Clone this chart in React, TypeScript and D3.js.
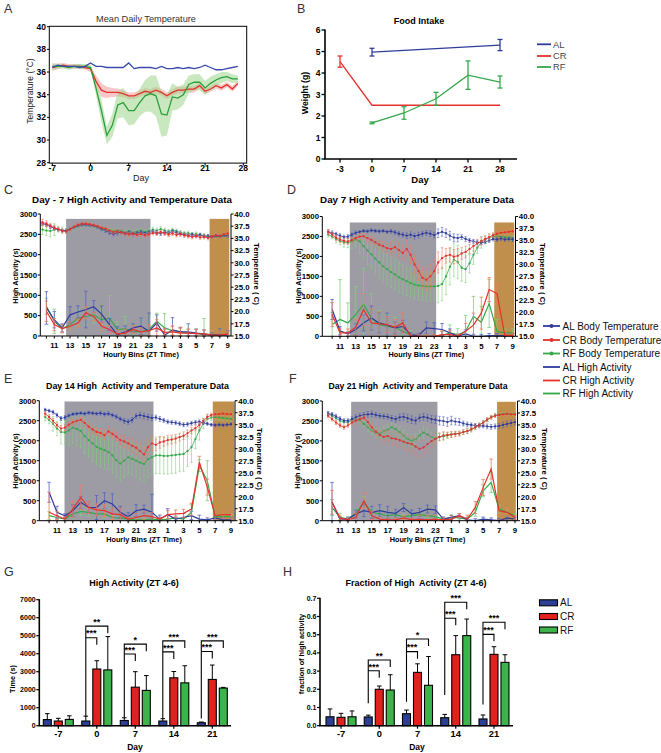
import React from "react";
import * as d3 from "d3";

const FONT = "'Liberation Sans', Arial, Helvetica, sans-serif";

const COLORS: any = {
  AL: { line: "#2f3c9c", err: "#5563c0", bar: "#2d3f95", a: "#3a4aaa" },
  CR: { line: "#e5322c", err: "#ef7b5e", bar: "#e0221f", a: "#e0352c" },
  RF: { line: "#34a84a", err: "#84cc7c", bar: "#3cb44b", a: "#2b9f3d" },
};
const GRAY = "#9d9ca5";
const BROWN = "#c08f4c";

// ---------------- Panel A: Mean daily temperature ----------------
const A_DAYS = [-7, -6, -5, -4, -3, -2, -1, 0, 1, 2, 3, 4, 5, 6, 7, 8, 9, 10, 11, 12, 13, 14, 15, 16, 17, 18, 19, 20, 21, 22, 23, 24, 25, 26, 27];
const A_AL = [36.4, 36.6, 36.5, 36.5, 36.5, 36.4, 36.5, 36.8, 36.5, 36.5, 36.4, 36.4, 36.4, 36.4, 36.8, 36.3, 36.4, 36.4, 36.4, 36.3, 36.5, 36.3, 36.3, 36.4, 36.3, 36.4, 36.3, 36.4, 36.6, 36.4, 36.2, 36.2, 36.3, 36.4, 36.5];
const A_CR = [36.4, 36.5, 36.6, 36.5, 36.5, 36.5, 36.4, 36.3, 35.2, 34.4, 34.2, 34.2, 34.2, 34.1, 33.9, 33.9, 34.1, 34.3, 34.2, 34.4, 34.2, 33.9, 34.2, 34.4, 34.4, 34.5, 34.5, 34.8, 34.3, 34.5, 34.8, 34.6, 34.9, 34.5, 35.0];
const A_CR_SD = [0.3, 0.25, 0.2, 0.2, 0.2, 0.2, 0.2, 0.25, 0.5, 0.6, 0.5, 0.4, 0.35, 0.3, 0.3, 0.3, 0.3, 0.3, 0.3, 0.3, 0.3, 0.3, 0.3, 0.3, 0.3, 0.3, 0.3, 0.25, 0.25, 0.25, 0.25, 0.25, 0.25, 0.25, 0.25];
const A_RF = [36.5, 36.5, 36.5, 36.4, 36.5, 36.5, 36.5, 36.4, 34.6, 32.6, 30.4, 31.3, 33.1, 33.3, 32.6, 32.6, 33.3, 33.9, 34.1, 33.9, 32.3, 32.2, 33.8, 33.7, 34.0, 34.9, 35.1, 35.1, 34.6, 35.0, 35.3, 35.5, 35.6, 35.4, 35.4];
const A_RF_SD = [0.3, 0.2, 0.2, 0.2, 0.2, 0.2, 0.2, 0.2, 0.6, 1.0, 0.8, 1.0, 1.2, 1.3, 1.3, 1.2, 1.2, 1.4, 1.6, 1.8, 2.0, 1.8, 1.2, 1.0, 0.9, 0.8, 0.7, 0.7, 0.6, 0.6, 0.5, 0.5, 0.4, 0.4, 0.3];
const A_XTICKS = [-7, 0, 7, 14, 21, 28];
const A_YTICKS = [28, 30, 32, 34, 36, 38, 40];

// ---------------- Panel B: Food intake ----------------
const B_DAYS = ["-3", "0", "7", "14", "21", "28"];
const B_AL_DAYS = ["0", "28"];
const B_AL = [4.97, 5.3];
const B_AL_SD = [0.18, 0.26];
const B_CR_DAYS = ["-3", "0", "7", "14", "21", "28"];
const B_CR = [4.53, 2.5, 2.5, 2.5, 2.5, 2.5];
const B_CR_SD = [0.26, 0, 0, 0, 0, 0];
const B_RF_DAYS = ["0", "7", "14", "21", "28"];
const B_RF = [1.68, 2.14, 2.8, 3.9, 3.58];
const B_RF_SD = [0.04, 0.29, 0.3, 0.66, 0.28];
const B_YTICKS = [0, 1, 2, 3, 4, 5, 6];

// ---------------- Panels C-F: activity & temperature ----------------
const HOURS = [10, 11, 12, 13, 14, 15, 16, 17, 18, 19, 20, 21, 22, 23, 24, 25, 26, 27, 28, 29, 30, 31, 32, 33];
const TEMP_BINS = d3.range(9.5, 33.25, 0.5);
const ZT_TICKS = [11, 13, 15, 17, 19, 21, 23, 25, 27, 29, 31, 33];
const ZT_LABELS = ["11", "13", "15", "17", "19", "21", "23", "1", "3", "5", "7", "9"];
const ACT_TICKS = [0, 500, 1000, 1500, 2000, 2500, 3000];
const TEMP_TICKS = [15, 17.5, 20, 22.5, 25, 27.5, 30, 32.5, 35, 37.5, 40];

// Day -7
const C_T_AL = [38.0, 37.8, 37.4, 37.1, 36.8, 36.6, 36.6, 36.9, 37.3, 37.6, 37.8, 37.8, 37.7, 37.6, 37.3, 36.9, 36.6, 36.2, 35.9, 36.1, 36.3, 36.0, 36.2, 35.9, 36.1, 36.3, 36.0, 36.2, 36.4, 36.2, 36.0, 36.3, 36.1, 36.4, 36.2, 35.9, 35.8, 35.6, 35.8, 35.5, 35.7, 35.4, 35.5, 35.3, 35.5, 35.4, 35.6, 35.5];
const C_T_CR = [38.3, 38.0, 37.6, 37.2, 36.9, 36.5, 36.4, 36.9, 37.4, 37.8, 38.0, 38.0, 37.9, 37.7, 37.5, 37.2, 37.0, 36.6, 36.3, 36.4, 36.2, 36.0, 35.8, 36.0, 35.7, 35.9, 35.6, 35.8, 36.1, 36.0, 36.3, 36.0, 35.8, 36.0, 35.7, 35.9, 35.6, 35.5, 35.3, 35.5, 35.2, 35.3, 35.1, 35.4, 35.6, 35.5, 35.8, 36.0];
const C_T_RF = [36.8, 36.6, 36.5, 36.8, 36.9, 36.7, 36.6, 36.9, 37.2, 37.5, 37.7, 37.8, 37.7, 37.5, 37.3, 37.0, 36.8, 36.6, 36.5, 36.7, 36.5, 36.3, 36.5, 36.2, 36.4, 36.6, 36.3, 36.5, 36.8, 36.6, 36.9, 36.6, 36.4, 36.7, 36.5, 36.2, 36.0, 36.1, 35.8, 35.9, 35.7, 35.6, 35.4, 35.5, 35.3, 35.6, 35.4, 35.5];
const C_TSD_AL = [0.4, 0.4, 0.3, 0.3, 0.3, 0.3, 0.3, 0.3, 0.4, 0.4, 0.4, 0.4, 0.3, 0.3, 0.4, 0.4, 0.4, 0.4, 0.3, 0.3, 0.3, 0.3, 0.3, 0.3];
const C_TSD_CR = [0.6, 0.5, 0.4, 0.4, 0.3, 0.3, 0.3, 0.3, 0.4, 0.4, 0.4, 0.4, 0.4, 0.4, 0.4, 0.4, 0.4, 0.4, 0.4, 0.4, 0.4, 0.4, 0.5, 0.6];
const C_TSD_RF = [1.0, 1.2, 0.6, 0.4, 0.4, 0.4, 0.4, 0.4, 0.4, 0.4, 0.4, 0.4, 0.5, 0.5, 0.5, 0.5, 0.4, 0.4, 0.4, 0.4, 0.4, 0.3, 0.3, 0.3];
const C_A_AL = [690, 400, 200, 520, 590, 650, 720, 540, 280, 30, 100, 200, 240, 115, 320, 20, 150, 100, 100, 70, 50, 30, 30, 30];
const C_A_CR = [610, 280, 180, 240, 320, 570, 480, 240, 160, 50, 70, 160, 100, 130, 200, 90, 100, 70, 70, 60, 50, 20, 20, 50];
const C_A_RF = [730, 360, 180, 280, 440, 480, 520, 400, 440, 160, 180, 110, 110, 160, 360, 200, 130, 100, 70, 70, 30, 30, 30, 30];
const C_ASD_AL = [400, 200, 100, 200, 150, 450, 150, 200, 150, 200, 150, 100, 200, 450, 200, 150, 300, 100, 200, 100, 100, 50, 150, 100];
const C_ASD_CR = [250, 150, 100, 100, 100, 150, 100, 100, 100, 100, 100, 100, 100, 150, 200, 100, 150, 150, 100, 100, 100, 100, 100, 200];
const C_ASD_RF = [200, 300, 100, 150, 200, 200, 200, 250, 550, 200, 300, 200, 300, 350, 200, 350, 100, 100, 100, 100, 400, 100, 150, 100];

// Day 7
const D_T_AL = [36.8, 36.6, 36.3, 36.0, 35.7, 35.8, 36.2, 36.6, 36.8, 37.0, 36.9, 37.1, 37.0, 36.9, 37.0, 36.8, 36.9, 36.7, 36.4, 36.2, 36.0, 36.2, 35.9, 36.1, 36.4, 36.6, 36.4, 36.1, 36.5, 36.8, 36.5, 36.0, 35.6, 35.5, 35.7, 35.3, 35.0, 34.8, 34.6, 34.5, 34.7, 35.0, 35.3, 35.2, 35.4, 35.2, 35.3, 35.2];
const D_T_CR = [36.8, 36.2, 35.6, 35.2, 34.9, 34.8, 35.1, 35.5, 35.8, 35.9, 35.5, 35.1, 34.6, 34.1, 33.8, 33.4, 33.2, 33.6, 33.0, 32.4, 33.2, 32.0, 30.0, 28.6, 27.2, 26.8, 27.5, 28.6, 30.4, 31.3, 31.8, 32.0, 31.6, 31.8, 32.3, 32.6, 33.2, 33.8, 34.4, 34.9, 35.3, 35.7, 36.1, 36.4, 36.6, 36.7, 36.8, 36.9];
const D_T_RF = [36.2, 35.8, 35.3, 34.9, 34.6, 34.5, 34.8, 35.2, 34.8, 33.8, 32.9, 32.1, 31.2, 30.4, 29.6, 29.0, 28.4, 27.9, 27.3, 26.9, 26.5, 26.1, 25.8, 25.6, 25.5, 25.4, 25.4, 25.4, 25.5, 25.9, 27.5, 29.5, 31.0, 30.5, 29.3, 29.0, 30.2, 32.0, 33.5, 34.6, 35.2, 35.6, 35.8, 35.9, 35.8, 35.7, 35.6, 35.5];
const D_TSD_AL = [0.4, 0.4, 0.4, 0.4, 0.3, 0.3, 0.3, 0.3, 0.4, 0.5, 0.6, 0.6, 0.5, 0.6, 0.9, 0.9, 0.8, 0.5, 0.4, 0.4, 0.4, 0.4, 0.4, 0.4];
const D_TSD_CR = [0.5, 0.6, 0.6, 0.5, 0.6, 0.8, 0.8, 1.0, 1.2, 1.5, 1.8, 2.0, 2.2, 2.5, 2.2, 1.5, 1.5, 1.2, 1.0, 0.8, 0.6, 0.5, 0.5, 0.4];
const D_TSD_RF = [0.5, 0.8, 1.0, 1.5, 2.5, 3.0, 3.2, 3.3, 3.3, 3.2, 3.0, 3.0, 3.0, 3.0, 3.5, 3.8, 3.5, 2.8, 2.0, 1.2, 0.8, 0.6, 0.5, 0.5];
const D_A_AL = [670, 140, 60, 170, 335, 460, 335, 280, 210, 250, 40, 20, 210, 190, 170, 85, 0, 60, 0, 0, 20, 20, 20, 20];
const D_A_CR = [545, 85, 85, 225, 670, 335, 310, 295, 225, 335, 0, 0, 0, 0, 40, 40, 0, 125, 280, 580, 1170, 1070, 25, 25];
const D_A_RF = [295, 420, 335, 545, 800, 460, 295, 250, 225, 125, 40, 0, 0, 0, 20, 85, 40, 125, 500, 350, 820, 120, 85, 85];
const D_ASD_AL = [250, 100, 50, 150, 200, 300, 250, 300, 150, 150, 50, 50, 150, 150, 150, 100, 50, 100, 50, 50, 50, 50, 50, 50];
const D_ASD_CR = [300, 100, 100, 200, 400, 350, 300, 200, 200, 250, 50, 50, 50, 50, 100, 100, 50, 200, 300, 400, 300, 250, 50, 50];
const D_ASD_RF = [300, 1000, 500, 700, 900, 600, 350, 300, 250, 200, 100, 50, 50, 50, 100, 200, 150, 400, 500, 400, 600, 300, 100, 100];

// Day 14
const E_T_AL = [38.1, 37.9, 37.6, 37.0, 36.3, 36.5, 36.9, 37.2, 37.3, 37.4, 37.3, 37.5, 37.4, 37.3, 37.4, 37.2, 37.3, 37.0, 36.7, 36.2, 35.8, 35.6, 36.0, 36.8, 37.0, 36.8, 36.6, 36.4, 36.5, 36.2, 35.9, 35.6, 35.5, 35.4, 35.2, 35.0, 35.1, 35.3, 35.5, 35.6, 35.4, 35.2, 35.0, 34.9, 35.0, 34.9, 35.0, 35.1];
const E_T_CR = [37.3, 36.6, 35.8, 34.9, 34.2, 34.4, 35.0, 35.5, 35.8, 36.0, 35.4, 34.6, 34.0, 33.5, 33.3, 32.8, 33.6, 33.1, 32.5, 31.8, 31.5, 31.1, 30.6, 30.2, 29.5, 28.8, 30.3, 31.1, 30.8, 31.3, 31.5, 31.8, 31.9, 32.1, 32.4, 32.7, 33.2, 33.8, 34.3, 34.9, 35.8, 36.6, 37.0, 37.2, 37.2, 37.3, 37.2, 37.2];
const E_T_RF = [36.6, 36.0, 35.2, 34.2, 33.5, 33.4, 33.8, 34.4, 34.1, 33.7, 32.6, 31.8, 31.1, 30.4, 30.0, 29.7, 29.3, 28.6, 27.6, 26.9, 27.5, 28.2, 27.9, 27.5, 27.1, 26.8, 27.8, 28.2, 28.6, 28.6, 28.5, 28.5, 28.6, 28.7, 28.8, 28.9, 29.5, 30.3, 32.0, 33.8, 35.2, 36.2, 36.5, 36.6, 36.5, 36.4, 36.3, 36.2];
const E_TSD_AL = [0.3, 0.4, 0.4, 0.3, 0.3, 0.3, 0.3, 0.4, 0.4, 0.4, 0.5, 0.5, 0.6, 0.6, 0.5, 0.4, 0.4, 0.4, 0.4, 0.4, 0.3, 0.3, 0.3, 0.3];
const E_TSD_CR = [0.5, 0.5, 0.6, 0.6, 0.6, 0.7, 0.8, 0.9, 1.0, 1.0, 1.2, 1.4, 1.5, 1.5, 1.2, 1.0, 0.9, 0.8, 0.7, 0.6, 0.5, 0.4, 0.4, 0.4];
const E_TSD_RF = [0.8, 1.5, 2.5, 3.2, 3.5, 3.6, 3.8, 3.8, 3.7, 3.6, 3.5, 3.5, 3.6, 3.8, 3.8, 3.8, 3.8, 3.6, 3.2, 2.0, 1.0, 0.6, 0.5, 0.5];
const E_A_AL = [710, 210, 125, 250, 460, 330, 330, 500, 420, 210, 100, 250, 290, 210, 40, 150, 40, 80, 125, 40, 20, 70, 20, 20];
const E_A_CR = [210, 125, 40, 290, 580, 330, 270, 250, 170, 150, 40, 80, 125, 100, 40, 150, 170, 185, 290, 1460, 840, 125, 150, 150];
const E_A_RF = [125, 80, 40, 170, 230, 210, 170, 170, 80, 70, 40, 20, 20, 40, 20, 40, 70, 40, 210, 1375, 1000, 100, 100, 100];
const E_ASD_AL = [250, 150, 50, 150, 150, 150, 300, 200, 250, 150, 100, 150, 100, 450, 100, 150, 50, 100, 100, 100, 50, 50, 50, 50];
const E_ASD_CR = [500, 100, 50, 200, 300, 150, 150, 150, 150, 150, 50, 100, 100, 100, 50, 100, 100, 100, 150, 150, 200, 100, 100, 100];
const E_ASD_RF = [100, 50, 50, 100, 100, 100, 100, 100, 50, 50, 50, 50, 50, 50, 50, 100, 50, 50, 200, 150, 500, 50, 50, 50];

// Day 21
const F_T_AL = [37.4, 37.2, 36.8, 36.3, 35.9, 35.9, 36.2, 36.6, 36.9, 37.1, 37.2, 37.3, 37.1, 36.9, 36.8, 36.7, 36.4, 36.2, 36.6, 36.7, 36.4, 36.1, 35.9, 36.5, 36.7, 36.5, 36.2, 36.1, 35.9, 35.8, 35.6, 35.9, 35.7, 35.6, 35.3, 35.1, 35.0, 34.9, 34.8, 34.8, 34.7, 34.6, 34.7, 34.8, 35.0, 35.2, 35.4, 35.6];
const F_T_CR = [36.9, 36.2, 35.5, 34.9, 34.5, 34.9, 35.5, 35.9, 36.2, 36.5, 35.6, 34.5, 33.6, 32.9, 32.5, 32.7, 32.2, 32.1, 31.8, 31.5, 31.2, 31.0, 30.5, 30.0, 30.3, 31.0, 31.6, 32.1, 32.5, 32.8, 32.9, 33.0, 33.1, 33.2, 33.5, 33.7, 34.1, 34.5, 35.0, 35.5, 36.1, 36.6, 36.9, 37.1, 37.2, 37.3, 37.2, 37.2];
const F_T_RF = [37.3, 36.9, 36.4, 35.9, 35.6, 35.6, 35.9, 36.2, 35.9, 35.2, 34.5, 33.8, 33.4, 33.2, 33.7, 34.0, 34.5, 34.1, 33.5, 32.8, 32.1, 31.7, 32.0, 32.8, 33.4, 33.0, 32.5, 32.1, 32.5, 32.6, 32.8, 33.0, 33.2, 33.2, 33.5, 33.7, 34.0, 34.5, 35.0, 35.5, 36.1, 36.6, 37.0, 37.2, 37.3, 37.3, 37.3, 37.2];
const F_TSD_AL = [0.4, 0.4, 0.4, 0.5, 0.5, 0.6, 0.5, 0.5, 0.6, 0.7, 0.8, 0.7, 0.7, 0.8, 0.9, 0.9, 0.7, 0.5, 0.4, 0.4, 0.5, 0.5, 0.6, 0.6];
const F_TSD_CR = [0.4, 0.4, 0.4, 0.4, 0.5, 0.8, 1.0, 1.2, 1.4, 1.5, 1.6, 1.8, 1.5, 1.2, 0.8, 0.6, 0.5, 0.5, 0.4, 0.4, 0.4, 0.4, 0.3, 0.3];
const F_TSD_RF = [0.4, 0.4, 0.4, 0.4, 0.5, 0.8, 1.0, 1.0, 1.0, 1.1, 1.2, 1.2, 1.2, 1.0, 0.8, 0.6, 0.5, 0.5, 0.5, 0.4, 0.4, 0.4, 0.3, 0.3];
const F_A_AL = [460, 40, 40, 170, 250, 210, 250, 210, 185, 330, 170, 210, 290, 270, 40, 85, 125, 20, 0, 40, 20, 0, 70, 40];
const F_A_CR = [460, 70, 20, 85, 500, 125, 40, 20, 20, 70, 20, 40, 20, 40, 20, 40, 125, 40, 330, 835, 1295, 250, 210, 85];
const F_A_RF = [330, 85, 40, 185, 460, 210, 170, 125, 150, 100, 125, 150, 125, 100, 40, 85, 70, 40, 210, 750, 960, 290, 210, 125];
const F_ASD_AL = [500, 50, 50, 100, 150, 150, 150, 150, 100, 100, 100, 100, 100, 100, 50, 50, 50, 50, 50, 50, 50, 50, 50, 50];
const F_ASD_CR = [300, 50, 50, 100, 200, 100, 50, 50, 50, 50, 50, 100, 100, 100, 50, 100, 50, 100, 150, 200, 250, 100, 100, 50];
const F_ASD_RF = [200, 100, 50, 100, 150, 100, 100, 50, 50, 50, 50, 50, 50, 50, 50, 50, 50, 50, 100, 150, 250, 100, 100, 50];

// ---------------- Panels G-H: bar charts ----------------
const GH_DAYS = ["-7", "0", "7", "14", "21"];
const G_AL = [340, 260, 290, 260, 165];
const G_AL_SD = [330, 270, 150, 130, 40];
const G_CR = [260, 3150, 2140, 2660, 2570];
const G_CR_SD = [150, 460, 860, 350, 800];
const G_RF = [350, 3100, 1960, 2380, 2090];
const G_RF_SD = [200, 1850, 825, 950, 40];
const G_YTICKS = [0, 1000, 2000, 3000, 4000, 5000, 6000, 7000];
const G_SIG = [
  { day: "0", outer: 5530, inner: 4890, outerLabel: "**", innerLabel: "***", leftBottom: 500 },
  { day: "7", outer: 4530, inner: 3980, outerLabel: "*", innerLabel: "***", leftBottom: 440 },
  { day: "14", outer: 4710, inner: 4100, outerLabel: "***", innerLabel: "***", leftBottom: 400 },
  { day: "21", outer: 4710, inner: 4120, outerLabel: "***", innerLabel: "***", leftBottom: 400 },
];

const H_AL = [0.049, 0.048, 0.066, 0.044, 0.037];
const H_AL_SD = [0.043, 0.01, 0.02, 0.018, 0.022];
const H_CR = [0.046, 0.2, 0.293, 0.39, 0.392];
const H_CR_SD = [0.022, 0.018, 0.047, 0.105, 0.042];
const H_RF = [0.049, 0.196, 0.222, 0.495, 0.348];
const H_RF_SD = [0.032, 0.084, 0.158, 0.091, 0.042];
const H_YTICKS = [0, 0.1, 0.2, 0.3, 0.4, 0.5, 0.6, 0.7];
const H_SIG = [
  { day: "0", outer: 0.361, inner: 0.302, outerLabel: "**", innerLabel: "***", leftBottom: 0.123 },
  { day: "7", outer: 0.476, inner: 0.407, outerLabel: "*", innerLabel: "***", leftBottom: 0.132 },
  { day: "14", outer: 0.678, inner: 0.59, outerLabel: "***", innerLabel: "***", leftBottom: 0.169 },
  { day: "21", outer: 0.568, inner: 0.502, outerLabel: "***", innerLabel: "***", leftBottom: 0.117 },
];

// ---------------- layout configs ----------------
const TEMP_PANELS = [
  {
    id: "C", left: 40.3, right: 231, top: 214, bottom: 336, x11: 54.3, x33: 227.7,
    gray: [12.5, 23.2], brown: [30.7, 33.2], shadeTop: 2880,
    title: "Day - 7 High Activity and Temperature Data", titleX: 132, titleY: 203, titleSize: 9.8,
    ylabX: 15, yrX: 257, midY: 276,
    t: { AL: C_T_AL, CR: C_T_CR, RF: C_T_RF }, tsd: { AL: C_TSD_AL, CR: C_TSD_CR, RF: C_TSD_RF },
    a: { AL: C_A_AL, CR: C_A_CR, RF: C_A_RF }, asd: { AL: C_ASD_AL, CR: C_ASD_CR, RF: C_ASD_RF },
  },
  {
    id: "D", left: 322.3, right: 515.5, top: 216.5, bottom: 336.3, x11: 340, x33: 512.7,
    gray: [12.25, 23.25], brown: [30.65, 33.2], shadeTop: 2850,
    title: "Day 7 High Activity and Temperature Data", titleX: 417, titleY: 203, titleSize: 9.8,
    ylabX: 298, yrX: 543, midY: 276,
    t: { AL: D_T_AL, CR: D_T_CR, RF: D_T_RF }, tsd: { AL: D_TSD_AL, CR: D_TSD_CR, RF: D_TSD_RF },
    a: { AL: D_A_AL, CR: D_A_CR, RF: D_A_RF }, asd: { AL: D_ASD_AL, CR: D_ASD_CR, RF: D_ASD_RF },
  },
  {
    id: "E", left: 39.3, right: 235, top: 400.7, bottom: 520.7, x11: 57, x33: 231,
    gray: [11.95, 23.2], brown: [30.7, 33.4], shadeTop: 2980,
    title: "Day 14 High  Activity and Temperature Data", titleX: 137.5, titleY: 389, titleSize: 8.9,
    ylabX: 15, yrX: 260, midY: 461,
    t: { AL: E_T_AL, CR: E_T_CR, RF: E_T_RF }, tsd: { AL: E_TSD_AL, CR: E_TSD_CR, RF: E_TSD_RF },
    a: { AL: E_A_AL, CR: E_A_CR, RF: E_A_RF }, asd: { AL: E_ASD_AL, CR: E_ASD_CR, RF: E_ASD_RF },
  },
  {
    id: "F", left: 322.3, right: 517.5, top: 401, bottom: 520.7, x11: 340, x33: 515,
    gray: [12.4, 23.25], brown: [30.75, 33.1], shadeTop: 2980,
    title: "Day 21 High  Activity and Temperature Data", titleX: 418, titleY: 389, titleSize: 8.7,
    ylabX: 297, yrX: 545, midY: 461,
    t: { AL: F_T_AL, CR: F_T_CR, RF: F_T_RF }, tsd: { AL: F_TSD_AL, CR: F_TSD_CR, RF: F_TSD_RF },
    a: { AL: F_A_AL, CR: F_A_CR, RF: F_A_RF }, asd: { AL: F_ASD_AL, CR: F_ASD_CR, RF: F_ASD_RF },
  },
];

function PanelA() {
  const x = d3.scaleLinear().domain([-7, 28]).range([52.3, 243.3]);
  const y = d3.scaleLinear().domain([28, 40]).range([162.7, 26.7]);
  const area = (m: number[], s: number[]) =>
    d3.area<number>().x((_, i) => x(A_DAYS[i])).y0((d, i) => y(d - s[i])).y1((d, i) => y(d + s[i]))(m) || "";
  const line = d3.line<number>().x((_, i) => x(A_DAYS[i])).y((d) => y(d));
  return (
    <g>
      <text x={146} y={22} fontSize={9.2} textAnchor="middle" fill="#333">Mean Daily Temperature</text>
      <path d={area(A_CR, A_CR_SD)} fill="#f29a9a" opacity={0.55} />
      <path d={area(A_RF, A_RF_SD)} fill="#9fd68c" opacity={0.55} />
      <path d={line(A_CR) || ""} fill="none" stroke={COLORS.CR.a} strokeWidth={1.3} />
      <path d={line(A_RF) || ""} fill="none" stroke={COLORS.RF.a} strokeWidth={1.3} />
      <path d={line(A_AL) || ""} fill="none" stroke={COLORS.AL.a} strokeWidth={1.3} />
      <rect x={49.3} y={26.3} width={197.4} height={136.8} fill="none" stroke="#000" strokeWidth={1} />
      {A_YTICKS.map((t) => (
        <g key={t}>
          <line x1={47} x2={49.3} y1={y(t)} y2={y(t)} stroke="#000" />
          <text x={46} y={y(t) + 3} fontSize={8.5} fontWeight="bold" textAnchor="end">{t}</text>
        </g>
      ))}
      {A_XTICKS.map((t) => (
        <g key={t}>
          <line x1={x(t)} x2={x(t)} y1={163.1} y2={165.5} stroke="#000" />
          <text x={x(t)} y={171} fontSize={8.5} fontWeight="bold" textAnchor="middle">{t}</text>
        </g>
      ))}
      <text x={141} y={180.5} fontSize={9} textAnchor="middle" fill="#222">Day</text>
      <text transform={`translate(33,91) rotate(-90)`} fontSize={8.5} textAnchor="middle" fill="#222">Temperature (°C)</text>
    </g>
  );
}

function ErrBar({ cx, lo, hi, w, color, sw }: any) {
  return (
    <g stroke={color} strokeWidth={sw}>
      <line x1={cx} x2={cx} y1={lo} y2={hi} />
      <line x1={cx - w} x2={cx + w} y1={hi} y2={hi} />
      <line x1={cx - w} x2={cx + w} y1={lo} y2={lo} />
    </g>
  );
}

function PanelB() {
  const x = d3.scalePoint().domain(B_DAYS).range([340, 500]);
  const y = d3.scaleLinear().domain([0, 6]).range([159, 30]);
  const series = [
    { k: "AL", days: B_AL_DAYS, v: B_AL, sd: B_AL_SD },
    { k: "CR", days: B_CR_DAYS, v: B_CR, sd: B_CR_SD },
    { k: "RF", days: B_RF_DAYS, v: B_RF, sd: B_RF_SD },
  ];
  return (
    <g>
      <text x={419} y={24} fontSize={9} fontWeight="bold" textAnchor="middle">Food Intake</text>
      {series.map((s) => {
        const line = d3.line<number>().x((_, i) => x(s.days[i]) as number).y((d) => y(d));
        return (
          <g key={s.k}>
            <path d={line(s.v) || ""} fill="none" stroke={COLORS[s.k].line} strokeWidth={1.3} />
            {s.v.map((v, i) =>
              s.sd[i] > 0 ? (
                <ErrBar key={i} cx={x(s.days[i])} lo={y(v - s.sd[i])} hi={y(v + s.sd[i])} w={2.5} color={COLORS[s.k].line} sw={1.3} />
              ) : null
            )}
          </g>
        );
      })}
      <line x1={325} x2={325} y1={29.5} y2={159} stroke="#000" strokeWidth={1.6} />
      <line x1={324.2} x2={517} y1={159} y2={159} stroke="#000" strokeWidth={1.6} />
      {B_YTICKS.map((t) => (
        <g key={t}>
          <line x1={321.5} x2={325} y1={y(t)} y2={y(t)} stroke="#000" strokeWidth={1.3} />
          <text x={320.5} y={y(t) + 3} fontSize={8.5} fontWeight="bold" textAnchor="end">{t}</text>
        </g>
      ))}
      {B_DAYS.map((d) => (
        <g key={d}>
          <line x1={x(d)} x2={x(d)} y1={159} y2={162.5} stroke="#000" strokeWidth={1.3} />
          <text x={x(d)} y={172} fontSize={8.5} fontWeight="bold" textAnchor="middle">{d}</text>
        </g>
      ))}
      <text x={420} y={182.5} fontSize={9.5} fontWeight="bold" textAnchor="middle">Day</text>
      <text transform="translate(308,93) rotate(-90)" fontSize={8.7} fontWeight="bold" textAnchor="middle">Weight (g)</text>
      {["AL", "CR", "RF"].map((k, i) => {
        const yy = [44.3, 56, 67][i];
        return (
          <g key={k}>
            <line x1={537} x2={551} y1={yy} y2={yy} stroke={COLORS[k].line} strokeWidth={1.8} />
            <text x={553} y={yy + 3.4} fontSize={9.3} fill="#444">{k}</text>
          </g>
        );
      })}
    </g>
  );
}

function TempPanel({ cfg }: any) {
  const x = d3.scaleLinear().domain([11, 33]).range([cfg.x11, cfg.x33]);
  const ya = d3.scaleLinear().domain([0, 3000]).range([cfg.bottom, cfg.top]);
  const yt = d3.scaleLinear().domain([15, 40]).range([cfg.bottom, cfg.top]);
  const tLine = d3.line<number>().x((_, i) => x(TEMP_BINS[i])).y((d) => yt(d));
  const aLine = d3.line<number>().x((_, i) => x(HOURS[i])).y((d) => ya(d));
  const order = ["RF", "AL", "CR"];
  return (
    <g>
      <text x={cfg.titleX} y={cfg.titleY} fontSize={cfg.titleSize} fontWeight="bold" textAnchor="middle" style={{ whiteSpace: "pre" }}>{cfg.title}</text>
      <rect x={x(cfg.gray[0])} y={ya(cfg.shadeTop)} width={x(cfg.gray[1]) - x(cfg.gray[0])} height={ya(0) - ya(cfg.shadeTop)} fill={GRAY} />
      <rect x={x(cfg.brown[0])} y={ya(cfg.shadeTop)} width={x(cfg.brown[1]) - x(cfg.brown[0])} height={ya(0) - ya(cfg.shadeTop)} fill={BROWN} />
      {order.map((k) => {
        const c = COLORS[k];
        const vals: number[] = cfg.t[k];
        return (
          <g key={"t" + k}>
            {vals.map((v, i) => {
              const sd = cfg.tsd[k][Math.floor(i / 2)];
              return <ErrBar key={i} cx={x(TEMP_BINS[i])} lo={yt(v - sd)} hi={yt(v + sd)} w={1.2} color={c.err} sw={0.6} />;
            })}
            <path d={tLine(vals) || ""} fill="none" stroke={c.line} strokeWidth={0.8} />
            {vals.map((v, i) => (
              <circle key={i} cx={x(TEMP_BINS[i])} cy={yt(v)} r={1.15} fill={c.line} />
            ))}
          </g>
        );
      })}
      {order.map((k) => {
        const c = COLORS[k];
        const vals: number[] = cfg.a[k];
        return (
          <g key={"a" + k}>
            {vals.map((v, i) => {
              const sd = cfg.asd[k][i];
              return <ErrBar key={i} cx={x(HOURS[i])} lo={ya(Math.max(0, v - sd))} hi={ya(v + sd)} w={1.8} color={c.err} sw={0.8} />;
            })}
            <path d={aLine(vals) || ""} fill="none" stroke={c.line} strokeWidth={1.2} />
          </g>
        );
      })}
      <line x1={cfg.left} x2={cfg.left} y1={cfg.top} y2={cfg.bottom} stroke="#000" strokeWidth={1} />
      <line x1={cfg.right} x2={cfg.right} y1={cfg.top} y2={cfg.bottom} stroke="#000" strokeWidth={1} />
      <line x1={cfg.left} x2={cfg.right} y1={cfg.bottom} y2={cfg.bottom} stroke="#000" strokeWidth={1} />
      {ACT_TICKS.map((t) => (
        <g key={t}>
          <line x1={cfg.left - 2.5} x2={cfg.left} y1={ya(t)} y2={ya(t)} stroke="#000" />
          <text x={cfg.left - 3.3} y={ya(t) + 2.8} fontSize={7.8} fontWeight="bold" textAnchor="end">{t}</text>
        </g>
      ))}
      {TEMP_TICKS.map((t) => (
        <g key={t}>
          <line x1={cfg.right} x2={cfg.right + 2.5} y1={yt(t)} y2={yt(t)} stroke="#000" />
          <text x={cfg.right + 3.3} y={yt(t) + 2.8} fontSize={7.8} fontWeight="bold">{t.toFixed(1)}</text>
        </g>
      ))}
      {HOURS.map((h) => (
        <line key={h} x1={x(h)} x2={x(h)} y1={cfg.bottom} y2={cfg.bottom + 2.5} stroke="#000" />
      ))}
      {ZT_TICKS.map((h, i) => (
        <text key={h} x={x(h)} y={cfg.bottom + 12.3} fontSize={7.8} fontWeight="bold" textAnchor="middle">{ZT_LABELS[i]}</text>
      ))}
      <text x={(cfg.x11 + cfg.x33) / 2} y={cfg.bottom + 21} fontSize={7.3} fontWeight="bold" textAnchor="middle">Hourly Bins (ZT Time)</text>
      <text transform={`translate(${cfg.ylabX + 2.6},${cfg.midY}) rotate(-90)`} fontSize={7.3} fontWeight="bold" textAnchor="middle">High Activity (s)</text>
      <text transform={`translate(${cfg.yrX - 2.6},${cfg.midY - 2}) rotate(90)`} fontSize={7.8} fontWeight="bold" textAnchor="middle" style={{ whiteSpace: "pre" }}>Temperature ( C)</text>
    </g>
  );
}

function TempLegend() {
  const items = [
    { k: "AL", label: "AL Body Temperature", dot: true },
    { k: "CR", label: "CR Body Temperature", dot: true },
    { k: "RF", label: "RF Body Temperature", dot: true },
    { k: "AL", label: "AL High Activity", dot: false },
    { k: "CR", label: "CR High Activity", dot: false },
    { k: "RF", label: "RF High Activity", dot: false },
  ];
  const ys = [326, 340, 353.5, 367, 380.5, 393.5];
  return (
    <g>
      {items.map((it, i) => (
        <g key={it.label}>
          <line x1={543} x2={560} y1={ys[i]} y2={ys[i]} stroke={COLORS[it.k].line} strokeWidth={1.8} />
          {it.dot ? <circle cx={551.5} cy={ys[i]} r={2} fill={COLORS[it.k].line} /> : null}
          <text x={562.5} y={ys[i] + 3.6} fontSize={10} fill="#111">{it.label}</text>
        </g>
      ))}
    </g>
  );
}

function BarPanel({ cfg }: any) {
  const x = d3.scaleBand().domain(GH_DAYS).range(cfg.band);
  const y = d3.scaleLinear().domain([0, cfg.yMax]).range([cfg.bottom, cfg.top]);
  const offs: any = { AL: -11, CR: 0, RF: 11 };
  const center = (d: string) => (x(d) as number) + x.bandwidth() / 2;
  const bw = 8;
  return (
    <g>
      <text x={cfg.titleX} y={586} fontSize={9} fontWeight="bold" textAnchor="middle" style={{ whiteSpace: "pre" }}>{cfg.title}</text>
      {["AL", "CR", "RF"].map((k) => (
        <g key={k}>
          {GH_DAYS.map((d, i) => {
            const v = cfg.v[k][i];
            const sd = cfg.sd[k][i];
            const cx = center(d) + offs[k];
            return (
              <g key={d}>
                <line x1={cx} x2={cx} y1={y(v)} y2={y(v + sd)} stroke="#000" strokeWidth={1} />
                <line x1={cx - 2.3} x2={cx + 2.3} y1={y(v + sd)} y2={y(v + sd)} stroke="#000" strokeWidth={1} />
                <rect x={cx - bw / 2} y={y(v)} width={bw} height={y(0) - y(v)} fill={COLORS[k].bar} stroke="#000" strokeWidth={1.1} />
              </g>
            );
          })}
        </g>
      ))}
      {cfg.sig.map((s: any) => {
        const xl = center(s.day) + offs.AL;
        const xc = center(s.day) + offs.CR;
        const xr = center(s.day) + offs.RF;
        const yo = y(s.outer);
        const yi = y(s.inner);
        return (
          <g key={s.day} stroke="#000" strokeWidth={1.1} fill="none">
            <path d={`M${xl},${y(s.leftBottom)}V${yo}H${xr}V${yo + 7}`} />
            <path d={`M${xl},${yi}H${xc}V${yi + 7}`} />
            <text x={(xl + xr) / 2} y={yo - 1.2} fontSize={9} fontWeight="bold" textAnchor="middle" stroke="none" fill="#000">{s.outerLabel}</text>
            <text x={(xl + xc) / 2} y={yi - 1.2} fontSize={9} fontWeight="bold" textAnchor="middle" stroke="none" fill="#000">{s.innerLabel}</text>
          </g>
        );
      })}
      <line x1={cfg.left} x2={cfg.left} y1={cfg.top - 0.5} y2={cfg.bottom} stroke="#000" strokeWidth={1.6} />
      <line x1={cfg.left - 0.8} x2={cfg.right} y1={cfg.bottom} y2={cfg.bottom} stroke="#000" strokeWidth={1.6} />
      {cfg.ticks.map((t: number) => (
        <g key={t}>
          <line x1={cfg.left - 3} x2={cfg.left} y1={y(t)} y2={y(t)} stroke="#000" strokeWidth={1.2} />
          <text x={cfg.left - 3.6} y={y(t) + 2.5} fontSize={7} fontWeight="bold" textAnchor="end">{cfg.fmt(t)}</text>
        </g>
      ))}
      {GH_DAYS.map((d) => (
        <g key={d}>
          <line x1={center(d)} x2={center(d)} y1={cfg.bottom} y2={cfg.bottom + 3} stroke="#000" strokeWidth={1.2} />
          <text x={center(d)} y={736.5} fontSize={9.3} fontWeight="bold" textAnchor="middle">{d}</text>
        </g>
      ))}
      <text x={cfg.dayX} y={749.5} fontSize={8.5} fontWeight="bold" textAnchor="middle">Day</text>
      <text transform={`translate(${cfg.ylabX + 2.5},${cfg.ylabY}) rotate(-90)`} fontSize={7.3} fontWeight="bold" textAnchor="middle">{cfg.ylab}</text>
    </g>
  );
}

function BarLegend() {
  const ys = [602.8, 616.5, 630];
  return (
    <g>
      {["AL", "CR", "RF"].map((k, i) => (
        <g key={k}>
          <rect x={539.5} y={ys[i] - 3} width={18} height={6} fill={COLORS[k].bar} stroke="#000" strokeWidth={1.1} />
          <text x={560} y={ys[i] + 3.6} fontSize={10} fill="#111">{k}</text>
        </g>
      ))}
    </g>
  );
}

const G_CFG = {
  left: 39.3, right: 231, top: 599.7, bottom: 725.7, band: [39.05, 231.55], yMax: 7000, ticks: G_YTICKS,
  fmt: (t: number) => String(t), title: "High Activity (ZT 4-6)", titleX: 134, dayX: 135,
  ylab: "Time (s)", ylabX: 12.5, ylabY: 679, sig: G_SIG,
  v: { AL: G_AL, CR: G_CR, RF: G_RF }, sd: { AL: G_AL_SD, CR: G_CR_SD, RF: G_RF_SD },
};
const H_CFG = {
  left: 320, right: 513, top: 598.3, bottom: 725.7, band: [321.9, 513.1], yMax: 0.7, ticks: H_YTICKS,
  fmt: (t: number) => t.toFixed(1), title: "Fraction of High  Activity (ZT 4-6)", titleX: 416, dayX: 417,
  ylab: "fraction of high activity", ylabX: 301.5, ylabY: 654, sig: H_SIG,
  v: { AL: H_AL, CR: H_CR, RF: H_RF }, sd: { AL: H_AL_SD, CR: H_CR_SD, RF: H_RF_SD },
};

const LETTERS = [
  { t: "A", x: 4, y: 13 }, { t: "B", x: 297, y: 13 },
  { t: "C", x: 4, y: 194 }, { t: "D", x: 287, y: 194 },
  { t: "E", x: 4, y: 383 }, { t: "F", x: 289, y: 383 },
  { t: "G", x: 4, y: 576 }, { t: "H", x: 283, y: 576 },
];

export default function App() {
  return (
    <svg width={661} height={753} viewBox="0 0 661 753" fontFamily={FONT}
      style={{ position: "absolute", left: 0, top: 0, display: "block", background: "#fff" }}>
      <rect width={661} height={753} fill="#fff" />
      <PanelA />
      <PanelB />
      {TEMP_PANELS.map((cfg) => <TempPanel key={cfg.id} cfg={cfg} />)}
      <TempLegend />
      <BarPanel cfg={G_CFG} />
      <BarPanel cfg={H_CFG} />
      <BarLegend />
      {LETTERS.map((l) => (
        <text key={l.t} x={l.x} y={l.y} fontSize={12.5} fill="#333">{l.t}</text>
      ))}
    </svg>
  );
}
